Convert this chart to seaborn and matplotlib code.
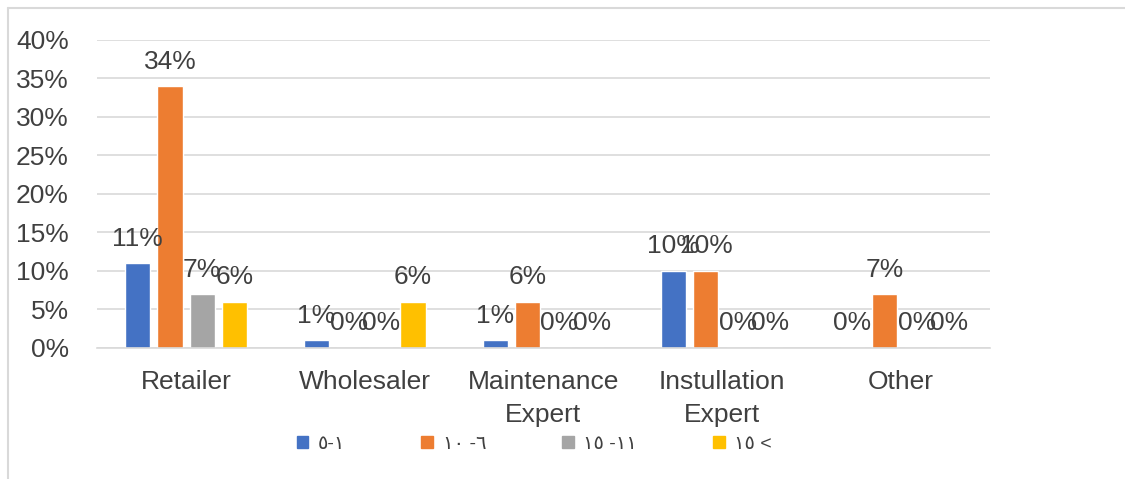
import seaborn as sns
import matplotlib.pyplot as plt
import pandas as pd
from matplotlib.ticker import FuncFormatter
from matplotlib.lines import Line2D

# data (percent)
categories = ["Retailer", "Wholesaler", "Maintenance\nExpert", "Instullation\nExpert", "Other"]
groups = ["٥-١", "١٠ -٦", "١٥ -١١", "١٥ <"]
v_1_5 = [11, 1, 1, 10, 0]
v_6_10 = [34, 0, 6, 10, 7]
v_11_15 = [7, 0, 0, 0, 0]
v_15_plus = [6, 6, 0, 0, 0]
colors = ["#4472c4", "#ed7d31", "#a5a5a5", "#ffc000"]

rows = []
for g, vals in zip(groups, [v_1_5, v_6_10, v_11_15, v_15_plus]):
    for c, v in zip(categories, vals):
        rows.append({"cat": c, "grp": g, "val": v})
df = pd.DataFrame(rows)

sns.set_style("white")
plt.rcParams['font.family'] = ['Liberation Sans', 'DejaVu Sans']

fig = plt.figure(figsize=(11.25, 4.79), dpi=100)
ax = fig.add_axes([0.086, 0.2735, 0.794, 0.643])

sns.barplot(data=df, x="cat", y="val", hue="grp", palette=colors,
            width=0.72, gap=0.22, ax=ax, saturation=1)

for cont in ax.containers:
    labs = [f"{int(b.get_height())}%" for b in cont]
    ax.bar_label(cont, labels=labs, fontsize=19, padding=9, color="#404040")

ax.set_ylim(0, 40)
ax.set_yticks(range(0, 41, 5))
ax.yaxis.set_major_formatter(FuncFormatter(lambda v, p: f"{int(v)}%"))
ax.grid(axis="y", color="#d9d9d9", linewidth=1.2)
ax.set_axisbelow(True)
for s in ["top", "right", "left"]:
    ax.spines[s].set_visible(False)
ax.spines["bottom"].set_color("#d9d9d9")
ax.spines["bottom"].set_linewidth(1.2)
ax.tick_params(axis="both", labelsize=19, colors="#404040", length=0)
ax.tick_params(axis="x", pad=16)
ax.tick_params(axis="y", pad=20)
for t in ax.get_xticklabels():
    t.set_linespacing(1.45)
ax.set_xlabel("")
ax.set_ylabel("")

ax.legend_.remove()
handles = [plt.Rectangle((0, 0), 1, 1, color=c) for c in colors]
fig.legend(handles, groups, loc="center", bbox_to_anchor=(0.475, 0.073), ncol=4,
           frameon=False, fontsize=14, handlelength=0.6, handleheight=0.6,
           columnspacing=3.9, handletextpad=0.5, labelcolor="#404040")

# outer chart border (top and left visible)
fig.add_artist(Line2D([8 / 1125, 1], [1 - 8 / 479, 1 - 8 / 479], color="#d9d9d9", lw=1.5))
fig.add_artist(Line2D([8 / 1125, 8 / 1125], [0, 1 - 8 / 479], color="#d9d9d9", lw=1.5))

fig.savefig("out.png", dpi=100)
